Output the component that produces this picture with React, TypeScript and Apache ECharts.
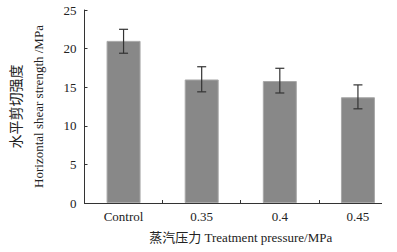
import React, { useEffect, useRef } from "react";
import * as echarts from "echarts";

const categories = ["Control", "0.35", "0.4", "0.45"];
const meanValues = [21.0, 16.0, 15.8, 13.7];
const errLow = [19.4, 14.4, 14.25, 12.2];
const errHigh = [22.5, 17.65, 17.45, 15.3];
const yTicks = [0, 5, 10, 15, 20, 25];

const FONT = "'Liberation Serif', 'Times New Roman', 'Noto Sans CJK SC', serif";

export default function App() {
  const ref = useRef<HTMLDivElement>(null);
  useEffect(() => {
    if (!ref.current) return;
    const chart = echarts.init(ref.current, null, { renderer: "svg" });
    const errData = categories.map((_, i) => [i, errLow[i], errHigh[i]]);
    chart.setOption({
      animation: false,
      backgroundColor: "#ffffff",
      grid: { left: 73, top: 10, width: 332, bottom: 49, containLabel: false },
      xAxis: {
        type: "category",
        data: categories,
        name: "蒸汽压力 Treatment pressure/MPa",
        nameLocation: "middle",
        nameGap: 28,
        nameTextStyle: { fontFamily: FONT, fontSize: 13, color: "#222" },
        axisLine: { lineStyle: { color: "#333", width: 1 } },
        axisTick: { show: true, inside: true, length: 3, lineStyle: { color: "#333" } },
        axisLabel: { fontFamily: FONT, fontSize: 13, color: "#222", margin: 7 },
      },
      yAxis: {
        type: "value",
        min: yTicks[0],
        max: yTicks[yTicks.length - 1],
        interval: 5,
        name:
          "{a|水平剪切强度}\n{b|Horizontal shear strength /MPa}",
        nameLocation: "middle",
        nameRotate: 90,
        nameGap: 35,
        nameTextStyle: {
          rich: {
            a: { fontFamily: "'Noto Sans CJK SC', serif", fontSize: 14, color: "#222", lineHeight: 23 },
            b: { fontFamily: FONT, fontSize: 13, color: "#222", lineHeight: 23 },
          },
        },
        splitLine: { show: false },
        axisLine: { show: true, lineStyle: { color: "#333", width: 1 } },
        axisTick: { show: true, inside: true, length: 3, lineStyle: { color: "#333" } },
        axisLabel: { fontFamily: FONT, fontSize: 13, color: "#222", margin: 8 },
      },
      graphic: [
        {
          type: "rect",
          right: 0,
          top: 196,
          shape: { width: 15, height: 12 },
          style: { fill: "#ffffff" },
          z: 100,
        },
      ],
      series: [
        {
          type: "bar",
          data: meanValues,
          barWidth: 34,
          itemStyle: { color: "#888888", borderColor: "#a8a8a8", borderWidth: 1 },
          z: 2,
        },
        {
          type: "custom",
          data: errData,
          z: 5,
          renderItem: (params: any, api: any) => {
            const x = api.value(0);
            const lo = api.coord([x, api.value(1)]);
            const hi = api.coord([x, api.value(2)]);
            const hw = 4.5;
            const style = { stroke: "#333", lineWidth: 1.2 };
            return {
              type: "group",
              children: [
                { type: "line", shape: { x1: lo[0], y1: lo[1], x2: hi[0], y2: hi[1] }, style },
                { type: "line", shape: { x1: lo[0] - hw, y1: lo[1], x2: lo[0] + hw, y2: lo[1] }, style },
                { type: "line", shape: { x1: hi[0] - hw, y1: hi[1], x2: hi[0] + hw, y2: hi[1] }, style },
              ],
            };
          },
        },
      ],
    });
    return () => chart.dispose();
  }, []);
  return (
    <div
      ref={ref}
      style={{ position: "fixed", left: 0, top: 0, width: 397, height: 252 }}
    />
  );
}
